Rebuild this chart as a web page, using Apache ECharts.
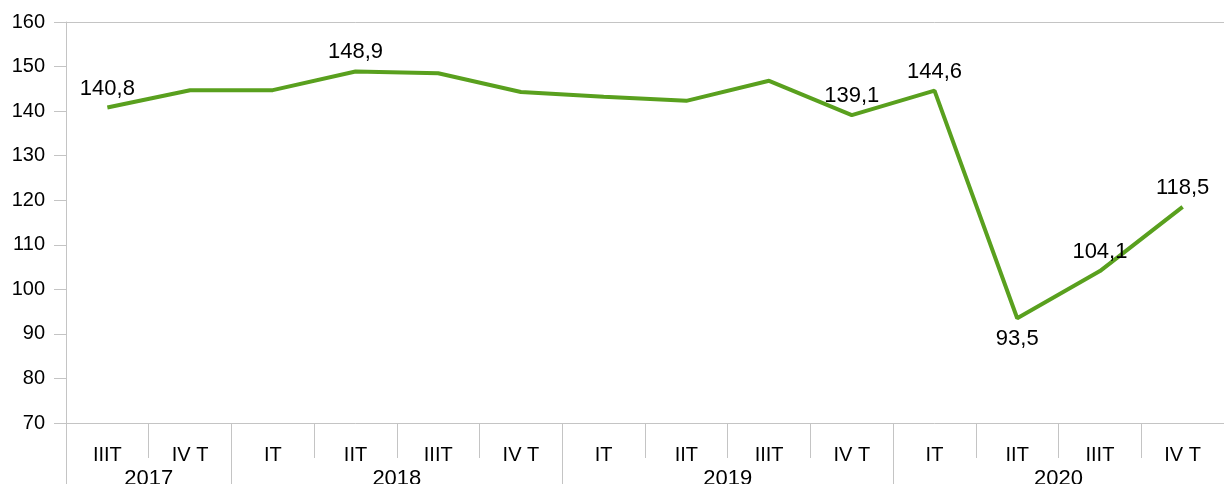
<!DOCTYPE html>
<html>
<head>
<meta charset="utf-8">
<script src="https://cdn.jsdelivr.net/npm/echarts@6/dist/echarts.min.js"></script>
<style>
  html, body { margin: 0; padding: 0; background: #fff; }
  #chart { width: 1224px; height: 484px; }
</style>
</head>
<body>
<div id="chart"></div>
<script>
const quarters = ['IIIT', 'IV T', 'IT', 'IIT', 'IIIT', 'IV T', 'IT', 'IIT', 'IIIT', 'IV T', 'IT', 'IIT', 'IIIT', 'IV T']
const years = ['2017', '2018', '2019', '2020']
// where each year group starts / ends, counted in quarters
const yearBounds = [0, 2, 6, 10, 14]
const yearCenters = [1, 4, 8, 12]
const values = [140.8, 144.7, 144.7, 148.9, 148.5, 144.3, 143.2, 142.3, 146.8, 139.1, 144.6, 93.5, 104.1, 118.5]
// which points carry a value label, and on which side
const labelled = { 0: 'top', 3: 'top', 9: 'top', 10: 'top', 11: 'bottom', 12: 'top', 13: 'top' }

const font = "'Liberation Sans', Arial, sans-serif"
const grey = '#c4c4c4'

const chart = echarts.init(document.getElementById('chart'))
chart.setOption({
  animation: false,
  grid: { left: 66, right: 0, top: 22, bottom: 61, outerBoundsMode: 'none' },
  xAxis: [
    {
      type: 'category',
      data: quarters,
      boundaryGap: true,
      axisLine: { lineStyle: { color: grey, width: 1 } },
      axisTick: { show: true, interval: 0, length: 35, lineStyle: { color: grey } },
      axisLabel: {
        interval: 0,
        margin: 22,
        color: '#000',
        fontSize: 20,
        fontFamily: font
      },
      splitLine: { show: false }
    },
    {
      type: 'value',
      min: 0,
      max: 14,
      position: 'bottom',
      axisLine: { show: false },
      axisTick: { show: true, customValues: yearBounds, length: 62, lineStyle: { color: grey } },
      axisLabel: {
        customValues: yearCenters,
        margin: 45,
        color: '#000',
        fontSize: 22,
        fontFamily: font,
        formatter: v => years[yearCenters.indexOf(v)]
      },
      splitLine: { show: false }
    },
    {
      type: 'category',
      position: 'top',
      data: quarters,
      axisLine: { show: true, lineStyle: { color: grey } },
      axisTick: { show: false },
      axisLabel: { show: false }
    }
  ],
  yAxis: {
    type: 'value',
    min: 70,
    max: 160,
    interval: 10,
    axisLine: { show: true, lineStyle: { color: grey } },
    axisTick: { show: true, length: 12, lineStyle: { color: grey } },
    axisLabel: { margin: 21, color: '#000', fontSize: 20, fontFamily: font },
    splitLine: { show: false }
  },
  series: [
    {
      type: 'line',
      xAxisIndex: 0,
      data: values.map((v, i) => ({
        value: v,
        label: {
          show: labelled[i] !== undefined,
          position: labelled[i] || 'top',
          distance: labelled[i] === 'bottom' ? 10 : 8
        }
      })),
      symbol: 'circle',
      symbolSize: 0.1,
      itemStyle: { color: '#59a01e' },
      lineStyle: { color: '#59a01e', width: 4 },
      label: {
        color: '#000',
        fontSize: 22,
        fontFamily: font,
        formatter: p => String(p.value).replace('.', ',')
      }
    }
  ]
})
</script>
</body>
</html>
